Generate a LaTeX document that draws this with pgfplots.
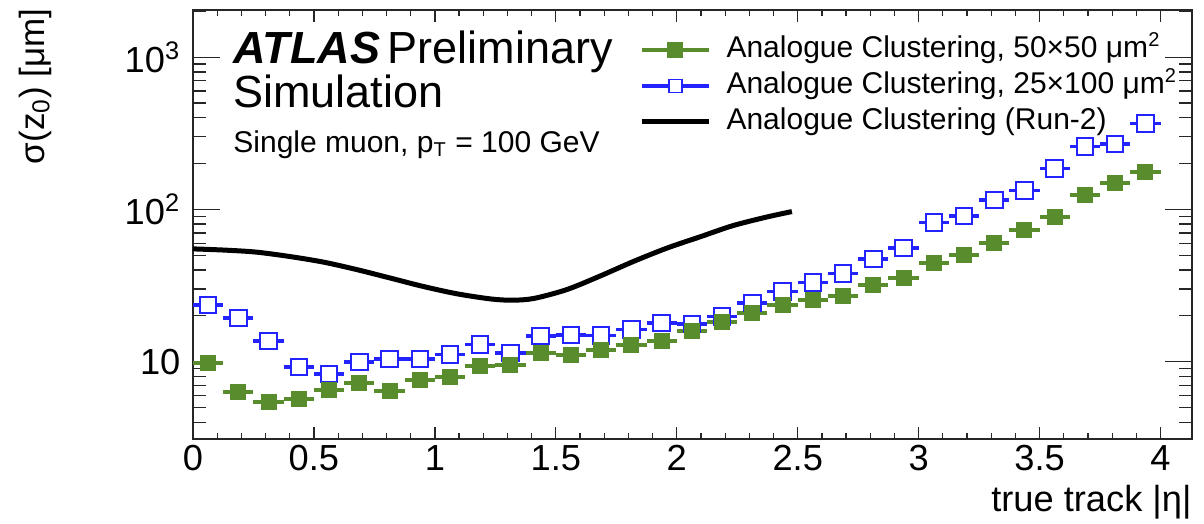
\documentclass[border=0pt]{standalone}
\usepackage{fontspec}
\setmainfont{Liberation Sans}
\usepackage{pgfplots}
\pgfplotsset{compat=1.18}
\definecolor{agreen}{RGB}{88,140,45}
\definecolor{ablue}{RGB}{35,35,255}

% sigma(z0) per |eta| bin, bin width 0.125
\begin{document}
\begin{tikzpicture}
\begin{axis}[
  name=ax,
  scale only axis, width=399.6pt, height=171.6pt,
  xmin=0, xmax=4.13, ymode=log, ymin=3.1, ymax=2040,
  axis line style={line width=0.9pt, black!85},
  tick align=inside,
  xtick={0,0.5,...,4}, minor x tick num=4,
  ytick={10,100,1000},
  yticklabels={10,10\textsuperscript{2},10\textsuperscript{3}},
  minor ytick={4,5,6,7,8,9,20,30,40,50,60,70,80,90,200,300,400,500,600,700,800,900,2000},
  xtick style={/pgfplots/major tick length=4.8pt, /pgfplots/minor tick length=2.4pt, line width=0.5pt, black!85},
  ytick style={/pgfplots/major tick length=10.8pt, /pgfplots/minor tick length=5.2pt, line width=0.5pt, black!85},
  xticklabel style={font=\fontsize{14.5}{16}\selectfont, /pgf/number format/assume math mode=true, yshift=1pt},
  yticklabel style={font=\fontsize{14.5}{16}\selectfont, xshift=-1.5pt},
  xlabel={true track |η|},
  xlabel style={at={(axis description cs:1,-0.107)}, anchor=north east, inner sep=0pt, font=\fontsize{14.5}{16}\selectfont},
  ylabel={σ(z\textsubscript{0}) [μm]},
  ylabel style={at={(axis description cs:-0.175,1.005)}, anchor=north east, inner sep=0pt, font=\fontsize{14}{16}\selectfont},
  legend style={at={(axis description cs:0.446,0.949)}, anchor=north west, draw=none, fill=none,
    inner sep=0pt, font=\fontsize{12}{14}\selectfont, column sep=5pt,
    nodes={inner sep=1pt, text height=9pt, text depth=3pt}, row sep=0.4pt},
  legend cell align=left,
]
\addlegendimage{legend image code/.code={
  \draw[agreen, line width=1.6pt] (0pt,0pt) -- (27pt,0pt);
  \draw[agreen, only marks, mark=square*, mark size=3pt] plot coordinates {(13.5pt,0pt)};}}
\addlegendentry{Analogue Clustering, 50×50 μm\textsuperscript{2}}
\addlegendimage{legend image code/.code={
  \draw[ablue, line width=1.4pt] (0pt,0pt) -- (27pt,0pt);
  \draw[ablue, only marks, mark=square*, mark size=2.6pt, mark options={fill=white, line width=0.7pt}] plot coordinates {(13.5pt,0pt)};}}
\addlegendentry{Analogue Clustering, 25×100 μm\textsuperscript{2}}
\addlegendimage{legend image code/.code={
  \draw[black, line width=2pt] (0pt,0pt) -- (27pt,0pt);}}
\addlegendentry{Analogue Clustering (Run-2)}

% 25x100
\addplot[forget plot, only marks, mark=square*, mark size=3.3pt,
  mark options={draw=ablue, fill=white, line width=0.8pt},
  error bars/.cd, x dir=both, x fixed=0.0625, error mark=none,
  error bar style={line width=1.4pt, ablue}]
coordinates {
(0.0625,23.6) (0.1875,19.3) (0.3125,13.7) (0.4375,9.2) (0.5625,8.3) (0.6875,9.9)
(0.8125,10.4) (0.9375,10.4) (1.0625,11.1) (1.1875,12.9) (1.3125,11.4) (1.4375,14.7)
(1.5625,15.0) (1.6875,14.8) (1.8125,16.2) (1.9375,17.9) (2.0625,17.7) (2.1875,19.8)
(2.3125,24.3) (2.4375,28.9) (2.5625,33.2) (2.6875,37.8) (2.8125,47.1) (2.9375,55.7)
(3.0625,82) (3.1875,90.6) (3.3125,115) (3.4375,133) (3.5625,186) (3.6875,258)
(3.8125,269) (3.9375,367)
};
% 50x50
\addplot[forget plot, only marks, mark=square*, mark size=3pt,
  mark options={draw=agreen, fill=agreen},
  error bars/.cd, x dir=both, x fixed=0.0625, error mark=none,
  error bar style={line width=1.6pt, agreen}]
coordinates {
(0.0625,9.8) (0.1875,6.3) (0.3125,5.4) (0.4375,5.7) (0.5625,6.5) (0.6875,7.2)
(0.8125,6.45) (0.9375,7.6) (1.0625,7.9) (1.1875,9.3) (1.3125,9.55) (1.4375,11.4)
(1.5625,11.1) (1.6875,12.0) (1.8125,12.9) (1.9375,13.6) (2.0625,15.8) (2.1875,18.1)
(2.3125,20.9) (2.4375,23.6) (2.5625,25.5) (2.6875,26.8) (2.8125,32) (2.9375,35.4)
(3.0625,44.4) (3.1875,50.3) (3.3125,60) (3.4375,73.4) (3.5625,89.7) (3.6875,124.5)
(3.8125,148.5) (3.9375,177)
};
% Run-2
\addplot[forget plot, black, line width=2pt, smooth] coordinates {
(0.00,55.0) (0.13,54.0) (0.26,52.4) (0.40,49.0) (0.54,45.0) (0.68,40.1)
(0.815,35.4) (0.95,31.2) (1.09,27.9) (1.23,25.8) (1.32,25.3) (1.41,26.0)
(1.545,29.7) (1.68,36.3) (1.82,45.4) (1.96,55.7) (2.10,66.3) (2.23,78)
(2.37,88.9) (2.476,96.7)
};

\node[anchor=base west, inner sep=0pt, font=\fontsize{18}{20}\selectfont]
  at (axis description cs:0.04,0.876) {\textbf{\textit{ATLAS}}\,Preliminary};
\node[anchor=base west, inner sep=0pt, font=\fontsize{18}{20}\selectfont]
  at (axis description cs:0.04,0.772) {Simulation};
\node[anchor=base west, inner sep=0pt, font=\fontsize{12}{14}\selectfont]
  at (axis description cs:0.04,0.669) {Single muon, p\textsubscript{T} = 100 GeV};
\end{axis}
\path ([xshift=-77.2pt,yshift=-33.6pt]ax.south west) rectangle ([xshift=4.8pt,yshift=4pt]ax.north east);
\end{tikzpicture}
\end{document}
